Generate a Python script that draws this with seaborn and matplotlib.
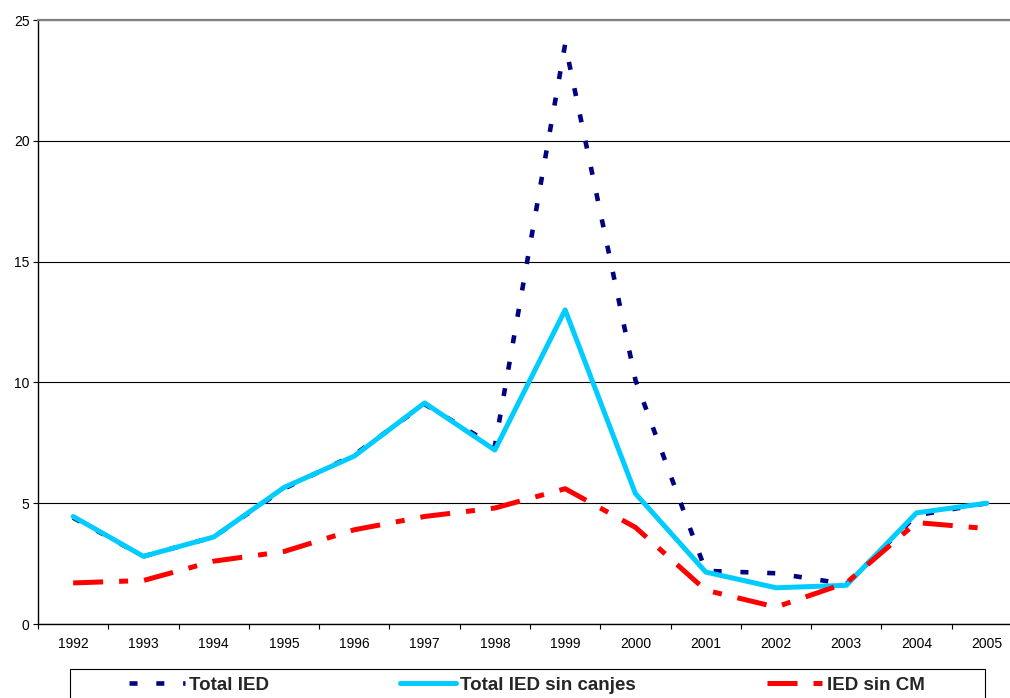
import matplotlib.pyplot as plt
import pandas as pd
import seaborn as sns
from matplotlib.lines import Line2D
from matplotlib.patches import Rectangle
from matplotlib.ticker import MultipleLocator, FixedLocator

# Data
years = list(range(1992, 2006))
total_ied = [4.4, 2.8, 3.6, 5.6, 7.0, 9.1, 7.35, 24.0, 10.1, 2.2, 2.1, 1.65, 4.5, 5.0]
total_sin_canjes = [4.45, 2.8, 3.6, 5.65, 6.95, 9.15, 7.2, 13.0, 5.4, 2.15, 1.5, 1.6, 4.6, 5.0]
ied_sin_cm = [1.7, 1.8, 2.6, 3.0, 3.9, 4.45, 4.8, 5.6, 4.0, 1.4, 0.7, 1.7, 4.2, 3.95]

series = ['Total IED', 'Total IED sin canjes', 'IED sin CM']
colors = {'Total IED': '#000080', 'Total IED sin canjes': '#00CCFF', 'IED sin CM': '#FF0000'}
widths = {'Total IED': 3.3, 'Total IED sin canjes': 3.6, 'IED sin CM': 3.6}
dashes = {'Total IED': (1.75, 4.1), 'Total IED sin canjes': None, 'IED sin CM': (6, 3.2, 1.8, 3.2)}

df = pd.DataFrame({
    'year': years * 3,
    'value': total_ied + total_sin_canjes + ied_sin_cm,
    'serie': [s for s in series for _ in years],
})

sns.set_theme(style='ticks')
plt.rcParams['font.family'] = ['Liberation Sans', 'DejaVu Sans']

fig = plt.figure(figsize=(10.10, 6.98), dpi=100)
ax = fig.add_axes([38 / 1010, 74 / 698, 984 / 1010, 604 / 698])

handles = []
for s in series:
    sub = df[df['serie'] == s]
    sns.lineplot(data=sub, x='year', y='value', color=colors[s], lw=widths[s],
                 ax=ax, legend=False)
    line = ax.lines[-1]
    if dashes[s]:
        line.set_linestyle((0, dashes[s]))
        line.set_dash_capstyle('butt')
    h = Line2D([], [], color=colors[s], lw=widths[s])
    if dashes[s]:
        h.set_linestyle((0, dashes[s]))
        h.set_dash_capstyle('butt')
    handles.append(h)

ax.set_xlim(1991.5, 2005.5)
ax.set_ylim(0, 25)
ax.set_xlabel('')
ax.set_ylabel('')

ax.set_xticks(years)
ax.set_xticklabels([str(y) for y in years])
ax.xaxis.set_minor_locator(FixedLocator([y - 0.5 for y in years] + [2005.5]))
ax.tick_params(axis='x', which='major', length=0, pad=9, labelsize=10, labelcolor='black')
ax.tick_params(axis='x', which='minor', length=3.6, width=0.8, color='black', direction='out')
ax.yaxis.set_major_locator(MultipleLocator(5))
ax.tick_params(axis='y', length=3.6, width=0.8, pad=2.5, labelsize=10,
               labelcolor='black', color='black', direction='out')

ax.yaxis.grid(True, color='black', lw=0.8)
ax.set_axisbelow(True)

for side in ['left', 'bottom']:
    ax.spines[side].set_color('black')
    ax.spines[side].set_linewidth(1.0)
ax.spines['top'].set_color('#808080')
ax.spines['top'].set_linewidth(1.6)
ax.spines['right'].set_visible(False)

# Legend at the bottom, box partly cut off by the figure edge
fig.legend(handles, series, loc='center', bbox_to_anchor=(527 / 1010, 1 - 685 / 698),
           ncol=3, frameon=False, handlelength=3, handletextpad=0.2,
           columnspacing=7, prop={'weight': 'bold', 'size': 13.5})
fig.patches.append(Rectangle((70 / 1010, -0.05), 915 / 1010, (698 - 669) / 698 + 0.05,
                             transform=fig.transFigure, fill=False,
                             ec='black', lw=0.8))

fig.savefig('out.png', dpi=100)
